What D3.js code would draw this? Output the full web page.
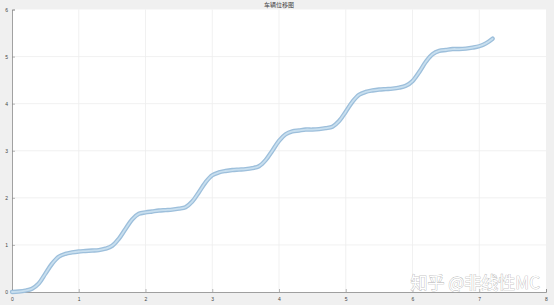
<!DOCTYPE html>
<html><head><meta charset="utf-8">
<script src="https://cdn.jsdelivr.net/npm/d3@7"></script>
<style>html,body{margin:0;padding:0;background:#f0f0f0;}svg{display:block;}</style>
</head><body>
<svg id="c" width="554" height="305"></svg>
<script>
// Data
const titleText = "车辆位移图";
const xTicks = [0,1,2,3,4,5,6,7,8];
const yTicks = [0,1,2,3,4,5,6];
const tValues = [0,0.1,0.2,0.3,0.4,0.5,0.6,0.7,0.8,0.9,1.0,1.1,1.2,1.3,1.4,1.5,1.6,1.7,1.8,1.9,2.0,2.1,2.2,2.3,2.4,2.5,2.6,2.7,2.8,2.9,3.0,3.1,3.2,3.3,3.4,3.5,3.6,3.7,3.8,3.9,4.0,4.1,4.2,4.3,4.4,4.5,4.6,4.7,4.8,4.9,5.0,5.1,5.2,5.3,5.4,5.5,5.6,5.7,5.8,5.9,6.0,6.1,6.2,6.3,6.4,6.5,6.6,6.7,6.8,6.9,7.0,7.1,7.2];
const displacement = [0.00,0.01,0.03,0.07,0.18,0.39,0.60,0.75,0.81,0.84,0.86,0.87,0.88,0.89,0.92,0.98,1.13,1.34,1.54,1.66,1.69,1.71,1.73,1.74,1.75,1.77,1.80,1.92,2.12,2.33,2.48,2.54,2.57,2.59,2.60,2.61,2.63,2.67,2.80,3.00,3.21,3.35,3.41,3.43,3.45,3.45,3.46,3.48,3.51,3.63,3.83,4.04,4.19,4.25,4.28,4.30,4.31,4.32,4.34,4.38,4.48,4.67,4.89,5.05,5.12,5.14,5.16,5.16,5.17,5.19,5.22,5.28,5.38];
const watermark = "知乎 @非线性MC";

const svg = d3.select("#c");
const L = 12, R = 546, T = 9.5, B = 292;
const x = d3.scaleLinear().domain([0,8]).range([L,R]);
const y = d3.scaleLinear().domain([0,6]).range([B,T]);

svg.append("rect").attr("x",L).attr("y",T).attr("width",R-L).attr("height",B-T).attr("fill","#ffffff");

// grid
svg.append("g").selectAll("line").data(xTicks.slice(1,-1)).join("line")
  .attr("x1",d=>x(d)).attr("x2",d=>x(d)).attr("y1",T).attr("y2",B)
  .attr("stroke","#ededed").attr("stroke-width",0.8);
svg.append("g").selectAll("line").data(yTicks.slice(1,-1)).join("line")
  .attr("y1",d=>y(d)).attr("y2",d=>y(d)).attr("x1",L).attr("x2",R)
  .attr("stroke","#ededed").attr("stroke-width",0.8);

// axes
const xAxis = d3.axisBottom(x).tickValues(xTicks).tickSize(-3).tickPadding(5).tickFormat(d3.format("d"));
const yAxis = d3.axisLeft(y).tickValues(yTicks).tickSize(-3).tickPadding(4).tickFormat(d3.format("d"));
const gx = svg.append("g").attr("transform",`translate(0,${B})`).call(xAxis);
const gy = svg.append("g").attr("transform",`translate(${L},0)`).call(yAxis);
[gx,gy].forEach(g=>{
  g.select(".domain").attr("stroke","#8a8a8a").attr("stroke-width",0.8);
  g.selectAll(".tick line").attr("stroke","#8a8a8a").attr("stroke-width",0.6);
  g.selectAll(".tick text").attr("fill","#444").attr("font-size","5px").attr("font-family","Liberation Sans, Arial, sans-serif");
});

// title
svg.append("text").attr("x",(L+R)/2).attr("y",7).attr("text-anchor","middle")
  .attr("font-size","6px").attr("font-family","Noto Sans CJK SC, sans-serif").attr("fill","#444").text(titleText);

// curve
const pts = tValues.map((t,i)=>[t,displacement[i]]);
const line = d3.line().x(d=>x(d[0])).y(d=>y(d[1])).curve(d3.curveCatmullRom.alpha(0.5));
svg.append("path").datum(pts).attr("d",line).attr("fill","none")
  .attr("stroke","#9dbfdb").attr("stroke-width",4.4).attr("stroke-linecap","round").attr("stroke-linejoin","round");
svg.append("path").datum(pts).attr("d",line).attr("fill","none")
  .attr("stroke","#c8dfef").attr("stroke-width",1.8).attr("stroke-linecap","round").attr("stroke-linejoin","round");

// watermark
svg.append("text").attr("x",540).attr("y",289).attr("text-anchor","end")
  .attr("font-size","17px").attr("font-family","Noto Sans CJK SC, sans-serif")
  .attr("fill","#ffffff").attr("stroke","#b0b0b0").attr("stroke-width",0.7)
  .attr("paint-order","stroke").text(watermark);
</script>
</body></html>
